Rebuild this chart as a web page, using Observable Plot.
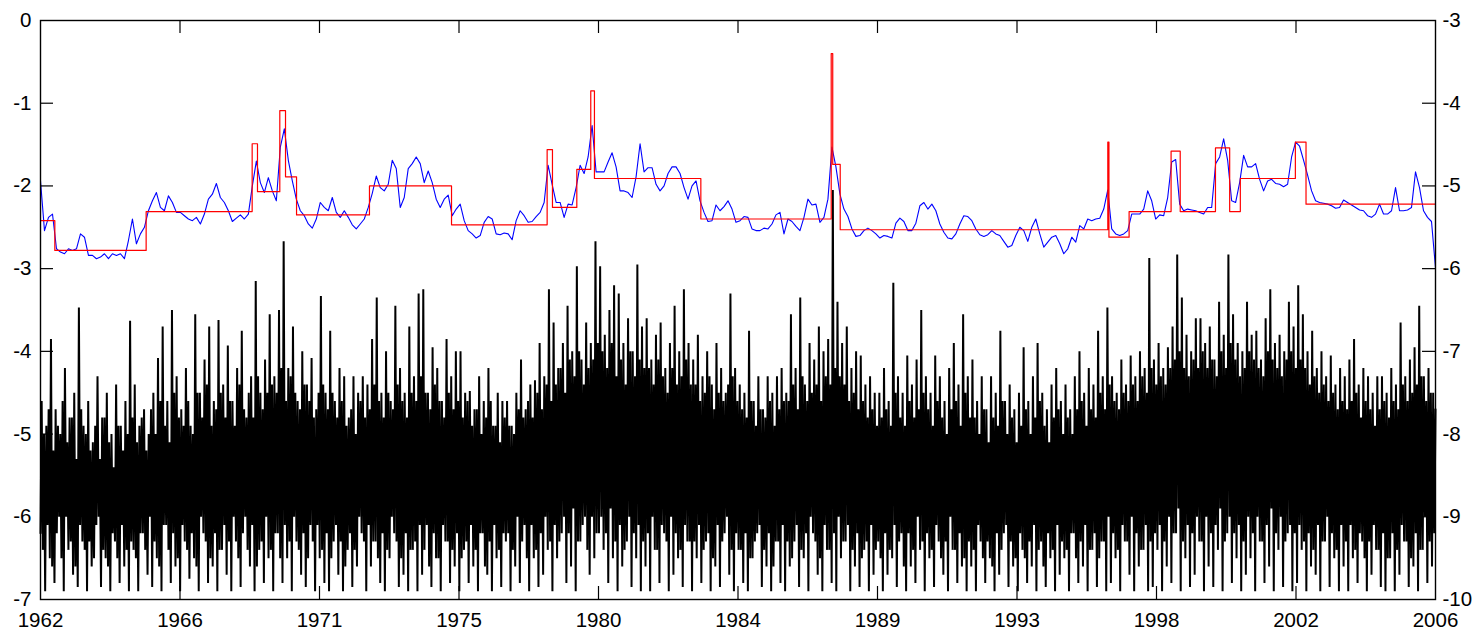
<!DOCTYPE html>
<html><head><meta charset="utf-8">
<script src="https://cdn.jsdelivr.net/npm/d3@7"></script>
<script src="https://cdn.jsdelivr.net/npm/@observablehq/plot@0.6"></script>
<style>html,body{margin:0;padding:0;background:#fff}svg{display:block}</style>
</head><body><div id="chart"></div>
<script>
// ---- data ----
const totalObs = 11000;
const xTickObs = [0,1100,2200,3300,4400,5500,6600,7700,8800,9900,11000];
const yearLabels = ["1962","1966","1971","1975","1980","1984","1989","1993","1998","2002","2006"];
const leftTicks = [0,-1,-2,-3,-4,-5,-6,-7];
const rightAxisOffset = -3;

// regime means (red step line): start observation and level
const redStarts = [0,113,833,1669,1711,1887,1932,2019,2594,3241,3995,4037,4229,4339,4368,5207,6235,6247,6306,8416,8425,8584,8915,8987,9265,9377,9461,9895,9979];
const redLevels = [-2.42,-2.78,-2.31,-1.49,-2.07,-1.09,-1.89,-2.35,-2.00,-2.47,-1.56,-2.26,-1.80,-0.85,-1.91,-2.40,-0.40,-1.74,-2.53,-1.47,-2.62,-2.31,-1.58,-2.31,-1.54,-2.31,-1.91,-1.47,-2.22];

// smoothed series (blue)
const blueValues = [
-1.94,-2.54,-2.38,-2.34,-2.76,-2.80,-2.82,-2.76,-2.78,-2.76,
-2.58,-2.62,-2.84,-2.84,-2.88,-2.86,-2.82,-2.88,-2.82,-2.84,
-2.82,-2.88,-2.66,-2.40,-2.70,-2.58,-2.50,-2.30,-2.18,-2.08,
-2.26,-2.30,-2.12,-2.20,-2.32,-2.32,-2.36,-2.40,-2.42,-2.38,
-2.46,-2.34,-2.16,-2.10,-1.97,-2.14,-2.20,-2.30,-2.43,-2.39,
-2.35,-2.40,-2.34,-2.00,-1.70,-1.96,-2.08,-1.90,-2.06,-2.18,
-1.53,-1.31,-1.69,-1.94,-2.16,-2.30,-2.36,-2.46,-2.51,-2.40,
-2.20,-2.26,-2.30,-2.14,-2.32,-2.38,-2.30,-2.38,-2.47,-2.52,
-2.46,-2.40,-2.26,-2.09,-1.88,-2.02,-2.06,-1.98,-1.69,-1.79,
-2.26,-2.14,-1.79,-1.73,-1.65,-1.73,-1.96,-1.82,-1.96,-2.16,
-2.26,-2.16,-2.11,-2.36,-2.28,-2.22,-2.42,-2.54,-2.58,-2.63,
-2.60,-2.44,-2.37,-2.40,-2.58,-2.59,-2.57,-2.58,-2.65,-2.42,
-2.30,-2.36,-2.44,-2.43,-2.37,-2.32,-2.20,-1.75,-1.98,-2.20,
-2.20,-2.38,-2.22,-2.23,-2.02,-1.75,-1.85,-1.65,-1.27,-1.83,
-1.83,-1.83,-1.71,-1.60,-1.77,-2.06,-2.06,-2.08,-2.14,-1.89,
-1.49,-1.83,-1.78,-1.78,-1.98,-2.06,-2.00,-1.85,-1.77,-1.77,
-1.85,-2.02,-2.16,-2.00,-1.94,-2.18,-2.32,-2.43,-2.42,-2.23,
-2.30,-2.25,-2.18,-2.28,-2.44,-2.42,-2.37,-2.38,-2.52,-2.54,
-2.54,-2.51,-2.52,-2.46,-2.35,-2.32,-2.58,-2.40,-2.43,-2.49,
-2.54,-2.38,-2.16,-2.23,-2.22,-2.44,-2.38,-2.16,-1.53,-1.77,
-2.10,-2.28,-2.37,-2.52,-2.61,-2.60,-2.54,-2.51,-2.54,-2.58,
-2.63,-2.60,-2.61,-2.63,-2.45,-2.39,-2.43,-2.54,-2.54,-2.45,
-2.24,-2.20,-2.28,-2.22,-2.30,-2.46,-2.56,-2.63,-2.64,-2.58,
-2.46,-2.36,-2.37,-2.42,-2.52,-2.59,-2.61,-2.59,-2.54,-2.58,
-2.60,-2.67,-2.74,-2.72,-2.60,-2.50,-2.54,-2.67,-2.50,-2.40,
-2.58,-2.74,-2.68,-2.62,-2.60,-2.70,-2.82,-2.76,-2.62,-2.68,
-2.48,-2.52,-2.40,-2.42,-2.40,-2.39,-2.28,-2.05,-2.52,-2.58,
-2.60,-2.58,-2.54,-2.34,-2.34,-2.34,-2.28,-2.06,-2.18,-2.40,
-2.35,-2.36,-2.14,-1.71,-1.68,-2.22,-2.30,-2.28,-2.29,-2.30,
-2.32,-2.34,-2.26,-2.26,-1.73,-1.65,-1.43,-1.69,-2.18,-2.20,
-1.96,-1.63,-1.77,-1.77,-1.73,-1.92,-2.06,-1.94,-1.92,-1.97,
-1.98,-2.01,-1.98,-1.65,-1.47,-1.52,-1.69,-1.87,-2.06,-2.18,
-2.20,-2.21,-2.22,-2.24,-2.27,-2.26,-2.17,-2.20,-2.23,-2.26,
-2.29,-2.30,-2.36,-2.38,-2.34,-2.22,-2.34,-2.34,-2.30,-2.02,
-2.30,-2.30,-2.29,-2.26,-1.83,-2.02,-2.30,-2.38,-2.43,-2.99
];

// raw series (black): per stretch of the sample, an outer high/low swing and an inner high/low swing
const blackHighs = [
-4.6,-4.9,-3.85,-4.7,-5.0,-4.2,-4.8,-4.5,-3.47,-4.9,
-4.6,-5.1,-4.3,-4.8,-4.5,-5.0,-4.4,-4.9,-4.6,-3.63,
-4.4,-4.9,-4.7,-5.0,-4.5,-4.08,-3.7,-4.6,-3.5,-4.3,
-4.7,-4.2,-4.9,-3.55,-4.5,-4.1,-3.7,-4.6,-3.62,-4.4,
-3.93,-4.6,-4.2,-3.75,-4.8,-4.3,-3.15,-4.5,-4.1,-3.55,
-4.3,-3.5,-2.67,-4.2,-3.7,-4.6,-4.0,-4.4,-4.08,-4.7,
-3.33,-4.5,-3.75,-4.6,-4.2,-4.3,-4.8,-4.3,-4.5,-4.3,
-4.4,-3.85,-3.35,-4.5,-4.0,-4.6,-3.45,-4.2,-4.5,-3.7,
-4.3,-3.3,-3.25,-4.5,-3.95,-4.2,-4.6,-3.85,-4.3,-4.0,
-4.0,-4.5,-4.48,-4.7,-4.3,-4.6,-4.2,-4.9,-4.5,-4.6,
-4.6,-4.9,-4.5,-4.1,-4.7,-4.4,-4.35,-3.9,-4.3,-3.25,
-3.65,-4.2,-3.9,-3.45,-4.0,-2.97,-4.1,-3.65,-3.9,-2.67,
-2.97,-3.8,-3.5,-3.2,-3.3,-3.9,-3.6,-4.0,-2.95,-3.7,
-3.6,-4.1,-3.8,-3.65,-4.2,-3.9,-3.45,-4.0,-3.25,-3.9,
-4.1,-3.8,-4.3,-4.0,-4.4,-3.9,-4.2,-4.5,-3.3,-4.2,
-4.4,-4.5,-3.75,-4.6,-4.3,-4.7,-4.3,-4.5,-4.3,-4.2,
-4.5,-3.55,-4.2,-3.35,-4.4,-3.9,-4.1,-3.7,-4.0,-3.85,
-2.05,-3.4,-3.9,-3.7,-4.2,-4.0,-4.05,-4.4,-4.3,-4.5,
-4.5,-4.2,-4.6,-3.17,-4.3,-4.5,-4.05,-4.4,-4.1,-3.5,
-4.3,-4.5,-4.05,-4.3,-4.6,-4.2,-3.9,-4.4,-3.55,-4.3,
-4.1,-4.6,-4.3,-4.7,-4.3,-4.5,-3.75,-4.6,-4.4,-4.7,
-4.5,-3.95,-4.6,-4.3,-3.9,-4.5,-4.7,-4.4,-4.2,-4.6,
-4.4,-4.7,-4.3,-4.0,-4.5,-4.2,-4.4,-3.75,-4.3,-3.47,
-4.3,-4.5,-4.1,-4.4,-4.05,-4.3,-4.0,-4.2,-2.87,-4.1,
-3.9,-4.2,-3.95,-3.7,-2.83,-3.35,-3.8,-4.0,-3.6,-3.6,
-3.9,-3.7,-4.1,-3.4,-3.8,-2.83,-3.55,-3.9,-4.0,-3.4,
-3.8,-3.75,-4.1,-3.6,-3.25,-3.9,-3.8,-4.0,-3.4,-3.7,
-3.2,-3.55,-4.0,-3.75,-4.2,-4.0,-4.3,-4.05,-4.4,-4.2,
-4.3,-4.1,-3.85,-4.4,-4.2,-4.3,-4.5,-4.3,-4.3,-4.5,
-4.2,-4.4,-3.65,-4.3,-4.1,-3.95,-3.45,-4.3,-4.2,-4.5
];
const blackLows = [
-6.2,-6.9,-6.5,-6.8,-6.0,-6.9,-6.4,-6.7,-6.85,-6.3,
-6.9,-6.6,-6.1,-6.85,-6.5,-6.9,-6.3,-6.8,-6.6,-6.9,
-6.4,-6.9,-6.2,-6.7,-6.85,-6.5,-6.9,-6.1,-6.8,-6.6,
-6.9,-6.3,-6.75,-6.5,-6.9,-6.2,-6.8,-6.6,-6.9,-6.4,
-6.7,-6.9,-6.3,-6.85,-6.0,-6.6,-6.9,-6.4,-6.8,-6.5,
-6.9,-6.2,-6.8,-6.5,-6.9,-6.3,-6.7,-6.85,-6.1,-6.9,
-6.5,-6.8,-6.9,-6.3,-6.7,-6.9,-6.4,-6.85,-6.6,-6.2,
-6.9,-6.6,-6.3,-6.8,-6.9,-6.5,-6.2,-6.85,-6.7,-6.9,
-6.4,-6.9,-6.7,-6.1,-6.85,-6.5,-6.9,-6.3,-6.8,-6.6,
-6.9,-6.4,-6.8,-6.6,-6.9,-6.2,-6.7,-6.9,-6.5,-6.85,
-6.3,-6.9,-6.6,-6.8,-6.1,-6.9,-6.5,-6.85,-6.7,-6.4,
-6.9,-6.5,-6.2,-6.8,-6.6,-6.9,-6.3,-6.0,-6.7,-6.5,
-6.2,-6.4,-6.8,-6.5,-6.9,-6.6,-6.3,-6.85,-6.5,-6.9,
-6.6,-6.9,-6.4,-6.8,-6.2,-6.9,-6.7,-6.5,-6.85,-6.3,
-6.9,-6.5,-6.8,-6.3,-6.9,-6.6,-6.85,-6.2,-6.7,-6.9,
-6.4,-6.8,-6.9,-6.5,-6.2,-6.85,-6.6,-6.9,-6.3,-6.8,
-6.9,-6.6,-6.3,-6.85,-6.5,-6.9,-6.2,-6.7,-6.9,-6.4,
-6.8,-6.9,-6.5,-6.3,-6.9,-6.6,-6.85,-6.4,-6.9,-6.7,
-6.3,-6.9,-6.7,-6.5,-6.85,-6.2,-6.9,-6.6,-6.8,-6.4,
-6.9,-6.5,-6.85,-6.3,-6.7,-6.9,-6.4,-6.8,-6.6,-6.9,
-6.6,-6.9,-6.3,-6.8,-6.5,-6.9,-6.7,-6.2,-6.85,-6.6,
-6.9,-6.4,-6.8,-6.6,-6.9,-6.3,-6.85,-6.5,-6.9,-6.7,
-6.5,-6.9,-6.2,-6.8,-6.6,-6.9,-6.4,-6.85,-6.3,-6.9,
-6.8,-6.5,-6.9,-6.3,-6.7,-6.9,-6.6,-6.4,-6.9,-6.85,
-6.4,-6.9,-6.6,-6.8,-6.2,-6.9,-6.5,-6.85,-6.7,-6.3,
-6.9,-6.6,-6.85,-6.4,-6.9,-6.2,-6.8,-6.5,-6.9,-6.7,
-6.5,-6.9,-6.3,-6.8,-6.6,-6.9,-6.4,-6.85,-6.2,-6.9,
-6.8,-6.4,-6.9,-6.6,-6.7,-6.9,-6.3,-6.85,-6.5,-6.9,
-6.6,-6.9,-6.5,-6.8,-6.3,-6.9,-6.7,-6.4,-6.85,-6.9,
-6.5,-6.9,-6.7,-6.3,-6.85,-6.6,-6.9,-6.4,-6.8,-6.6
];
const blackInnerHighs = [
-5.0,-4.7,-5.2,-4.9,-4.6,-5.1,-4.8,-5.3,-4.7,-5.0,
-5.2,-4.9,-5.3,-4.8,-5.1,-5.4,-4.9,-5.2,-5.0,-4.8,
-5.1,-4.8,-5.2,-4.7,-5.0,-4.6,-4.9,-5.1,-4.5,-4.8,
-4.9,-4.6,-5.0,-4.5,-4.8,-4.4,-4.9,-4.7,-4.5,-4.8,
-4.6,-4.9,-4.4,-4.7,-4.5,-4.8,-4.3,-4.7,-4.5,-4.4,
-4.5,-4.2,-4.6,-4.3,-4.5,-4.7,-4.4,-4.6,-4.8,-4.5,
-4.4,-4.7,-4.5,-4.8,-4.6,-4.9,-4.7,-5.0,-4.6,-4.8,
-4.7,-4.4,-4.6,-4.8,-4.5,-4.7,-4.4,-4.6,-4.8,-4.5,
-4.6,-4.3,-4.5,-4.7,-4.4,-4.6,-4.8,-4.5,-4.7,-4.6,
-4.8,-4.6,-4.9,-4.7,-5.0,-4.8,-4.6,-4.9,-5.1,-4.8,
-4.9,-5.0,-4.7,-4.8,-4.6,-4.8,-4.5,-4.7,-4.4,-4.6,
-4.4,-4.2,-4.5,-4.1,-4.3,-4.0,-4.4,-4.2,-4.1,-3.9,
-4.0,-4.2,-3.9,-4.3,-4.1,-4.4,-4.0,-4.3,-4.1,-4.2,
-4.2,-4.4,-4.1,-4.3,-4.5,-4.2,-4.4,-4.3,-4.1,-4.4,
-4.4,-4.6,-4.5,-4.3,-4.7,-4.5,-4.6,-4.4,-4.3,-4.6,
-4.7,-4.8,-4.6,-4.9,-4.7,-4.8,-4.6,-4.9,-4.7,-4.6,
-4.6,-4.4,-4.7,-4.3,-4.6,-4.5,-4.4,-4.6,-4.3,-4.4,
-4.2,-4.3,-4.4,-4.6,-4.5,-4.7,-4.6,-4.8,-4.7,-4.9,
-4.8,-4.7,-4.9,-4.5,-4.8,-4.9,-4.6,-4.8,-4.7,-4.5,
-4.7,-4.9,-4.6,-4.8,-5.0,-4.7,-4.6,-4.9,-4.5,-4.8,
-4.8,-5.0,-4.7,-5.1,-4.8,-4.9,-4.6,-5.0,-4.8,-5.1,
-4.9,-4.7,-5.0,-4.8,-4.6,-4.9,-5.1,-4.8,-4.7,-5.0,
-4.8,-5.0,-4.7,-4.6,-4.9,-4.7,-4.8,-4.5,-4.7,-4.4,
-4.6,-4.7,-4.5,-4.6,-4.4,-4.6,-4.3,-4.5,-4.2,-4.4,
-4.3,-4.4,-4.2,-4.1,-4.0,-4.2,-4.3,-4.1,-4.2,-4.0,
-4.2,-4.1,-4.3,-4.0,-4.2,-3.9,-4.1,-4.3,-4.2,-4.0,
-4.1,-4.2,-4.3,-4.0,-4.1,-4.2,-4.3,-4.1,-4.0,-4.2,
-4.1,-4.2,-4.4,-4.3,-4.5,-4.4,-4.6,-4.5,-4.7,-4.6,
-4.7,-4.6,-4.5,-4.8,-4.6,-4.7,-4.9,-4.7,-4.6,-4.8,
-4.6,-4.7,-4.4,-4.6,-4.5,-4.4,-4.3,-4.6,-4.5,-4.7
];
const blackInnerLows = [
-6.4,-6.1,-6.6,-6.2,-6.5,-6.0,-6.3,-6.6,-6.1,-6.4,
-6.3,-6.5,-6.0,-6.4,-6.6,-6.2,-6.5,-6.1,-6.4,-6.3,
-6.5,-6.2,-6.4,-6.0,-6.3,-6.6,-6.1,-6.4,-6.2,-6.5,
-6.1,-6.4,-6.2,-6.6,-6.0,-6.3,-6.5,-6.2,-6.4,-6.1,
-6.3,-6.0,-6.5,-6.2,-6.4,-6.1,-6.6,-6.3,-6.0,-6.4,
-6.2,-6.5,-6.1,-6.3,-6.0,-6.4,-6.2,-6.5,-6.3,-6.1,
-6.4,-6.2,-6.5,-6.1,-6.3,-6.6,-6.2,-6.4,-6.0,-6.3,
-6.1,-6.3,-6.5,-6.2,-6.4,-6.0,-6.3,-6.5,-6.2,-6.4,
-6.3,-6.1,-6.4,-6.6,-6.2,-6.5,-6.1,-6.3,-6.4,-6.2,
-6.5,-6.3,-6.1,-6.4,-6.2,-6.6,-6.3,-6.1,-6.4,-6.2,
-6.2,-6.4,-6.0,-6.3,-6.5,-6.1,-6.4,-6.2,-6.0,-6.3,
-6.1,-6.3,-6.0,-6.2,-5.9,-6.3,-6.1,-6.4,-6.0,-6.2,
-6.0,-6.2,-5.9,-6.3,-6.1,-6.4,-6.0,-6.2,-6.1,-6.3,
-6.2,-6.0,-6.4,-6.1,-6.3,-6.0,-6.2,-6.4,-6.1,-6.3,
-6.3,-6.1,-6.4,-6.2,-6.5,-6.1,-6.3,-6.0,-6.4,-6.2,
-6.4,-6.2,-6.5,-6.3,-6.1,-6.4,-6.2,-6.6,-6.3,-6.1,
-6.3,-6.5,-6.1,-6.4,-6.2,-6.0,-6.3,-6.5,-6.1,-6.4,
-6.2,-6.0,-6.3,-6.1,-6.4,-6.2,-6.5,-6.3,-6.1,-6.4,
-6.5,-6.2,-6.4,-6.1,-6.3,-6.6,-6.2,-6.4,-6.0,-6.3,
-6.2,-6.4,-6.1,-6.5,-6.3,-6.0,-6.4,-6.2,-6.5,-6.3,
-6.4,-6.1,-6.5,-6.3,-6.6,-6.2,-6.4,-6.1,-6.3,-6.5,
-6.2,-6.5,-6.3,-6.1,-6.4,-6.6,-6.2,-6.4,-6.1,-6.3,
-6.4,-6.2,-6.5,-6.3,-6.1,-6.4,-6.2,-6.5,-6.3,-6.0,
-6.2,-6.4,-6.1,-6.3,-6.0,-6.2,-6.4,-6.1,-6.3,-6.2,
-6.1,-6.3,-6.0,-6.2,-5.9,-6.3,-6.1,-6.2,-6.0,-6.3,
-6.0,-6.2,-6.1,-5.9,-6.3,-6.0,-6.2,-6.1,-6.3,-6.0,
-6.2,-6.0,-6.3,-6.1,-5.9,-6.2,-6.0,-6.3,-6.1,-6.2,
-6.1,-6.3,-6.2,-6.4,-6.1,-6.3,-6.0,-6.2,-6.4,-6.1,
-6.3,-6.1,-6.4,-6.2,-6.5,-6.3,-6.1,-6.4,-6.2,-6.5,
-6.2,-6.4,-6.1,-6.3,-6.5,-6.2,-6.4,-6.0,-6.3,-6.2
];

// ---- tables built from the data ----
const blue = blueValues.map((v, k) => ({t: k * totalObs / (blueValues.length - 1), v}));
const blackSeq = blackLows.flatMap((lo, i) => [lo, blackHighs[i], blackInnerLows[i], blackInnerHighs[i]]);
const black = blackSeq.map((v, j) => ({t: j * totalObs / (blackSeq.length - 1), v}));
const red = redStarts.map((t, i) => ({t, v: redLevels[i]})).concat([{t: totalObs, v: redLevels[redLevels.length - 1]}]);

// ---- layout ----
const W = 1482, H = 633, mt = 20, mb = 34, ml = 40, mr = 47;
const ph = H - mt - mb, pw = W - ml - mr, tickLen = 13;

const chart = Plot.plot({
  width: W, height: H,
  marginTop: mt, marginBottom: mb, marginLeft: ml, marginRight: mr,
  style: {fontFamily: "'Liberation Sans', Arial, Helvetica, sans-serif", fontSize: "20px", color: "black", background: "white", overflow: "visible"},
  x: {type: "linear", domain: [0, totalObs], axis: null},
  y: {type: "linear", domain: [-7, 0], axis: null},
  marks: [
    Plot.line(black, {x: "t", y: "v", stroke: "black", strokeWidth: 2.0, strokeLinejoin: "miter", strokeMiterlimit: 2}),
    Plot.line(blue, {x: "t", y: "v", stroke: "#0000ff", strokeWidth: 1.1}),
    Plot.line(red, {x: "t", y: "v", stroke: "#ff0000", strokeWidth: 1.2, curve: "step-after"}),
    Plot.ruleX(xTickObs.slice(1, -1), {stroke: "black", strokeWidth: 1.2, insetTop: ph - tickLen}),
    Plot.ruleX(xTickObs.slice(1, -1), {stroke: "black", strokeWidth: 1.2, insetBottom: ph - tickLen}),
    Plot.ruleY(leftTicks.slice(1, -1), {stroke: "black", strokeWidth: 1.2, insetRight: pw - tickLen}),
    Plot.ruleY(leftTicks.slice(1, -1), {stroke: "black", strokeWidth: 1.2, insetLeft: pw - tickLen}),
    Plot.frame({stroke: "black", strokeWidth: 1.4}),
    Plot.axisX(xTickObs, {anchor: "bottom", label: null, tickSize: 0, tickPadding: 13, fontSize: 20.5,
      tickFormat: d => yearLabels[xTickObs.indexOf(d)]}),
    Plot.axisY(leftTicks, {anchor: "left", label: null, tickSize: 0, tickPadding: 9, fontSize: 20.5,
      tickFormat: d => String(d)}),
    Plot.axisY(leftTicks, {anchor: "right", label: null, tickSize: 0, tickPadding: 7, fontSize: 20.5,
      tickFormat: d => String(d + rightAxisOffset)})
  ]
});
document.getElementById("chart").appendChild(chart);
</script>
</body></html>
